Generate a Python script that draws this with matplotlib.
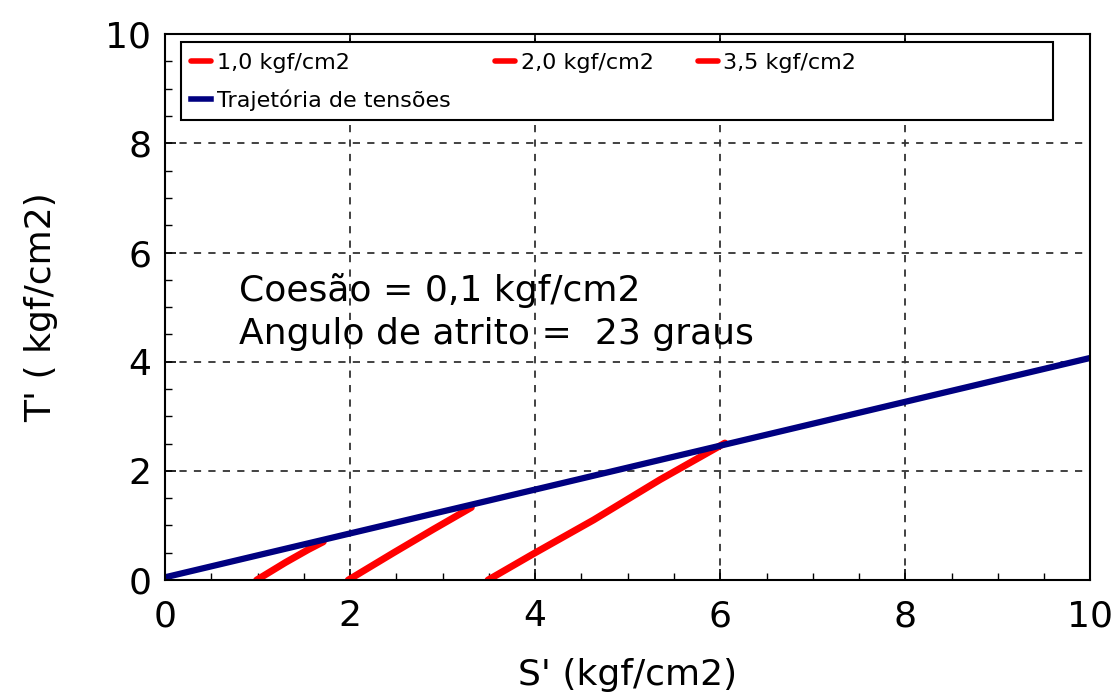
import matplotlib
matplotlib.use("Agg")
import matplotlib.pyplot as plt
from matplotlib.patches import Rectangle
from matplotlib.ticker import MultipleLocator

plt.rcParams['font.family'] = ['DejaVu Sans']

# stress paths (S', T') for each confining pressure
s_10 = [0.99, 1.30, 1.55, 1.71]
t_10 = [0.00, 0.32, 0.56, 0.70]
s_20 = [1.98, 2.47, 2.90, 3.31]
t_20 = [0.00, 0.50, 0.93, 1.33]
s_35 = [3.49, 3.98, 4.63, 5.35, 6.05]
t_35 = [0.00, 0.48, 1.10, 1.84, 2.51]

# failure envelope
s_env = [0.0, 10.0]
t_env = [0.05, 4.07]

labels = ["1,0 kgf/cm2", "2,0 kgf/cm2", "3,5 kgf/cm2", "Trajetória de tensões"]

fig = plt.figure(figsize=(11.15, 6.98), dpi=100)
ax = fig.add_axes([0.148, 0.169, 0.83, 0.782])

l1, = ax.plot(s_10, t_10, color="#ff0000", lw=5, solid_capstyle="round")
l2, = ax.plot(s_20, t_20, color="#ff0000", lw=5, solid_capstyle="round")
l3, = ax.plot(s_35, t_35, color="#ff0000", lw=5, solid_capstyle="round")
l4, = ax.plot(s_env, t_env, color="#000080", lw=4.5)

ax.set_xlim(0, 10)
ax.set_ylim(0, 10)
ax.xaxis.set_major_locator(MultipleLocator(2))
ax.yaxis.set_major_locator(MultipleLocator(2))
ax.xaxis.set_minor_locator(MultipleLocator(0.5))
ax.yaxis.set_minor_locator(MultipleLocator(0.5))
ax.tick_params(which="major", direction="in", length=8, width=1.2, top=True,
               labelsize=26)
ax.tick_params(axis="x", which="major", pad=14)
ax.tick_params(axis="y", which="major", pad=10)
ax.tick_params(which="minor", direction="in", length=5, width=1.0)
ax.grid(True, which="major", linestyle=(0, (4, 4)), color="#333333", lw=1.3)
for sp in ax.spines.values():
    sp.set_linewidth(1.5)

ax.set_xlabel("S' (kgf/cm2)", fontsize=26, labelpad=18)
ax.set_ylabel("T' ( kgf/cm2)", fontsize=26, labelpad=34)

ax.text(0.8, 5.3, "Coesão = 0,1 kgf/cm2", fontsize=26, va="center")
ax.text(0.8, 4.5, "Angulo de atrito =  23 graus", fontsize=26, va="center")

ax.add_patch(Rectangle((0.017, 0.842), 0.942, 0.143, transform=ax.transAxes,
                       facecolor="white", edgecolor="black", lw=1.5, zorder=4))
leg = ax.legend([l1, l4, l2, l3], [labels[0], labels[3], labels[1], labels[2]],
                ncol=3, loc="upper left", bbox_to_anchor=(0.014, 0.99),
                frameon=False, fontsize=16, handlelength=0.9, handletextpad=0.25,
                columnspacing=2.0, labelspacing=0.75, borderaxespad=0.2)
leg.set_zorder(5)
for h in leg.legend_handles:
    h.set_linewidth(4)

fig.savefig("out.png", dpi=100)
